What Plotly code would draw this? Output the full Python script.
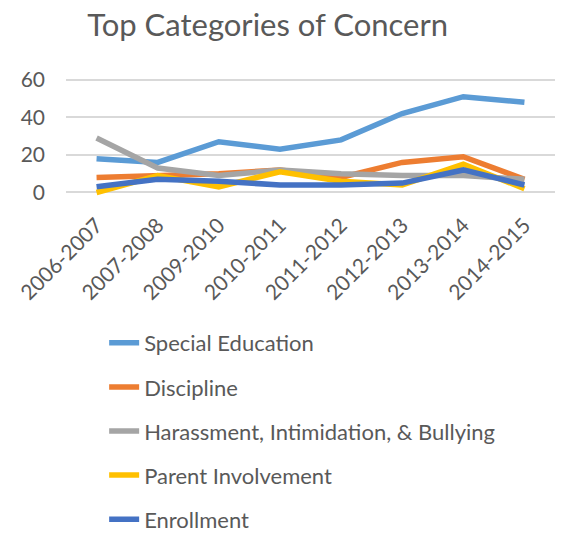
import plotly.graph_objects as go

years = ["2006-2007", "2007-2008", "2009-2010", "2010-2011", "2011-2012", "2012-2013", "2013-2014", "2014-2015"]
special_education = [18, 16, 27, 23, 28, 42, 51, 48]
discipline = [8, 9, 10, 12, 8, 16, 19, 7]
harassment = [29, 13, 9, 12, 10, 9, 9, 7]
parent_involvement = [0, 9, 3, 11, 6, 4, 15, 2]
enrollment = [3, 7, 6, 4, 4, 5, 12, 4]

series_names = ["Special Education", "Discipline", "Harassment, Intimidation, & Bullying",
                "Parent Involvement", "Enrollment"]
series_values = [special_education, discipline, harassment, parent_involvement, enrollment]
colors = ["#5B9BD5", "#ED7D31", "#A5A5A5", "#FFC000", "#4472C4"]

text_color = "#595959"
font_family = "Lato"

fig = go.Figure()
for i, (name, vals, col) in enumerate(zip(series_names, series_values, colors)):
    fig.add_trace(go.Scatter(
        x=list(range(len(years))), y=vals, name=name, mode="lines",
        line=dict(color=col, width=5.5),
        legendgroup=f"g{i}",
    ))

fig.update_layout(
    width=567, height=533,
    margin=dict(l=66, r=12, t=76, b=333, autoexpand=False),
    paper_bgcolor="white", plot_bgcolor="white",
    font=dict(family=font_family, color=text_color),
    title=dict(text="Top Categories of Concern", x=0.472, xanchor="center",
               y=1 - 25 / 533, yanchor="middle",
               font=dict(size=31, color=text_color, family=font_family)),
    showlegend=True,
    legend=dict(
        x=0.078, y=-0.984, xanchor="left", yanchor="top",
        font=dict(size=22, color=text_color, family=font_family),
        tracegroupgap=12.5, bgcolor="rgba(0,0,0,0)",
    ),
    xaxis=dict(
        range=[-0.5, 7.5], tickmode="array",
        tickvals=list(range(len(years))), ticktext=years,
        tickangle=-45, tickfont=dict(size=21, color=text_color),
        ticklabelstandoff=8,
        showgrid=False, zeroline=False, showline=False, ticks="",
    ),
    yaxis=dict(
        range=[-4, 62], tickmode="array", tickvals=[0, 20, 40, 60],
        ticktext=["0", "20", "40", "60"],
        tickfont=dict(size=21, color=text_color),
        ticklabelstandoff=20,
        showgrid=True, gridcolor="#D9D9D9", gridwidth=1.5,
        zeroline=False, showline=False, ticks="",
    ),
)

fig.write_html("out.html", config={"displayModeBar": False},
               post_script="document.body.style.margin='0';")
